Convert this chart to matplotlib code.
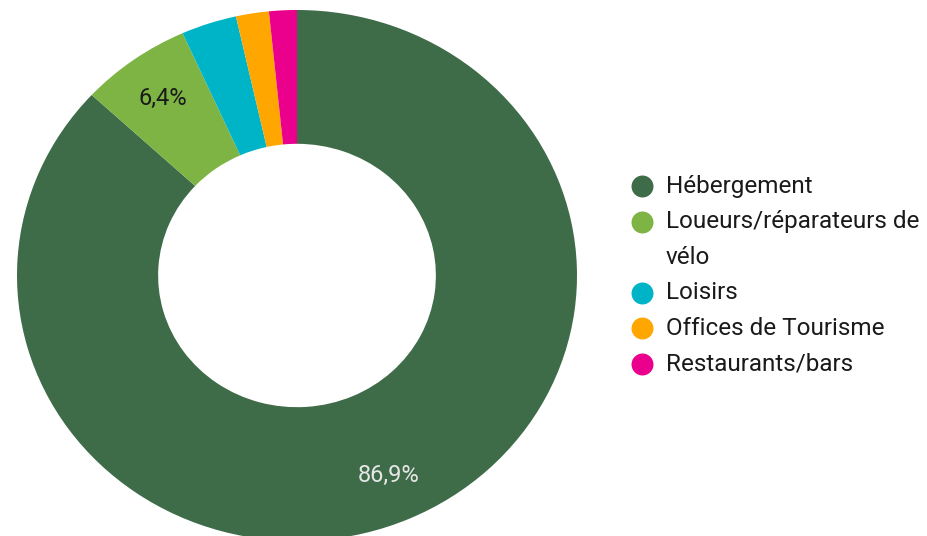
import matplotlib
matplotlib.use("Agg")
import matplotlib.pyplot as plt

categories = ["Hébergement", "Loueurs/réparateurs de\nvélo", "Loisirs",
              "Offices de Tourisme", "Restaurants/bars"]
values = [86.9, 6.4, 3.2, 1.9, 1.6]
colors = ["#3e6b48", "#7db443", "#00b4c8", "#ffa600", "#ea008c"]
label_colors = ["#e6e6e6", "#1a1a1a", "#1a1a1a", "#1a1a1a", "#1a1a1a"]

plt.rcParams['font.family'] = ['Roboto', 'DejaVu Sans']

W, H = 928, 536
fig = plt.figure(figsize=(W / 100, H / 100), dpi=100)

# donut axes (slightly wider than tall, as in the reference)
cx, cy, rx, ry = 297, 275.5, 280, 265.5
ax = fig.add_axes([(cx - rx) / W, 1 - (cy + ry) / H, 2 * rx / W, 2 * ry / H])


def fmt(p):
    return (f"{p:.1f}".replace(".", ",") + "%") if p > 5 else ""


wedges, texts, autotexts = ax.pie(
    values, colors=colors, startangle=90, counterclock=False,
    radius=1, autopct=fmt, pctdistance=0.822,
    wedgeprops=dict(width=0.504, linewidth=0),
    textprops=dict(fontsize=17))
for t, c in zip(autotexts, label_colors):
    t.set_color(c)
ax.set_aspect('auto')
ax.set_xlim(-1, 1)
ax.set_ylim(-1, 1)
ax.axis('off')

# legend (drawn in pixel coordinates)
lax = fig.add_axes([0, 0, 1, 1])
lax.set_xlim(0, W)
lax.set_ylim(H, 0)
lax.axis('off')
y0, step = 186, 35.6
line = 0
for cat, col in zip(categories, colors):
    y = y0 + step * line
    lax.scatter([642], [y], s=250, color=col, linewidths=0)
    for part in cat.split("\n"):
        lax.text(666, y0 + step * line, part, fontsize=17.5, color="#1a1a1a",
                 va="center", ha="left")
        line += 1

fig.savefig("out.png", dpi=100)
